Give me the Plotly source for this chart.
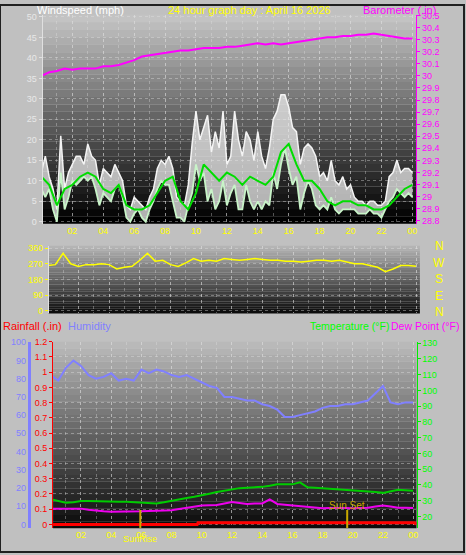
import plotly.graph_objects as go

W, H = 466, 555
# ---------------- data ----------------
hours_q = [i * 0.25 for i in range(97)]
hours_h = [i * 0.5 for i in range(49)]

wind_gust = [12,16,11,8,3,21,8,12,14,16,16,14,19,16,15,9,13,12,11,14,12,10,4,3,6,5,4,3,6,8,13,15,
             14,16,13,6,5,4,9,19,27,20,23,26,17,22,18,27,14,16,27,20,16,22,20,15,22,16,13,18,25,27,31,31,
             28,23,22,14,18,19,18,16,11,12,10,15,10,9,11,8,9,6,5,5,4,5,5,4,4,5,11,12,15,12,13,13,12]
wind_speed = [8,6,8,3,0,12,3,6,10,9,10,11,10,11,8,4,7,6,5,8,9,6,1,0,2,3,1,0,3,5,8,10,
              9,9,5,1,1,0,4,7,14,10,12,5,8,3,5,10,4,7,9,3,3,9,5,3,5,3,5,4,12,8,14,18,
              13,9,11,3,7,10,8,4,3,4,3,6,3,2,3,3,3,3,2,2,2,3,2,2,1,3,5,6,8,7,6,7,6]
wind_avg = [11,9,4,8,9,11,12,11,8,7,9,4,3,3,4,7,10,11,5,3,7,14,12,10,12,11,9,11,10,9,11,17,19,14,
            10,10,8,5,4,5,5,4,4,3,3,4,6,8,9]
barometer = [30.00,30.03,30.04,30.06,30.05,30.06,30.06,30.06,30.08,30.08,30.09,30.11,30.13,30.16,30.17,
             30.18,30.19,30.20,30.21,30.21,30.22,30.23,30.23,30.23,30.24,30.24,30.25,30.26,30.27,30.26,
             30.27,30.26,30.27,30.28,30.29,30.30,30.31,30.32,30.32,30.33,30.33,30.34,30.34,30.35,30.34,
             30.33,30.32,30.31,30.31]
wind_dir = [260,265,330,270,255,265,265,270,265,240,250,255,290,330,285,290,265,255,275,300,285,290,285,
            300,295,290,295,300,295,290,290,285,285,280,285,290,290,285,290,280,270,270,260,250,225,240,
            260,260,255]
humidity = [82,79,86,90,87,82,80,81,83,79,80,79,85,83,85,84,82,81,82,80,78,76,75,70,70,69,68,68,66,65,
            63,59,59,60,61,62,64,65,65,66,66,67,68,72,76,67,66,67,67]
temperature = [31,30,28.8,29,29.8,29.8,29.6,29.5,29.5,29.4,29.3,29,28.8,28.6,28.3,29,30,31,31.7,32.5,33.3,
               34.5,35.6,36.5,37.5,38,38.3,38.5,38.8,39.5,40.4,40.4,40.4,41.7,38.5,38.3,38,37.8,37.5,37,
               36.7,36.5,36.3,35.6,35,36,36.9,36.6,36.3]
dewpoint = [25,25,25,25,25,24.3,23.7,23.3,23,23,22.9,23,23.3,23.5,23.6,23.8,24,24.8,25.6,26.3,27,27.2,
            27.3,28.2,29.2,28.6,28,28.2,28.3,30.8,28,27.5,27,26.4,25.8,25.5,25.2,25.4,25.6,25.4,25.2,
            25.4,25.6,26.3,27,26.3,25.6,25.5,25.4]
rain_t = [0.15, 9.7, 9.75, 24.1, 24.2]
rain = [0.0, 0.0, 0.01, 0.01, 0.0]
sunrise, sunset = 5.93, 19.63
xt_vals = list(range(2, 25, 2))
xt_text = ["02","04","06","08","10","12","14","16","18","20","22","00"]
baro_ticks = [28.8,28.9,29.0,29.1,29.2,29.3,29.4,29.5,29.6,29.7,29.8,29.9,30.0,30.1,30.2,30.3,30.4,30.5]
baro_text = ["28.8","28.9","29","29.1","29.2","29.3","29.4","29.5","29.6","29.7","29.8","29.9",
             "30","30.1","30.2","30.3","30.4","30.5"]
rain_ticks = [0,0.1,0.2,0.3,0.4,0.5,0.6,0.7,0.8,0.9,1.0,1.1,1.2]
rain_text = ["0","0.1","0.2","0.3","0.4","0.5","0.6","0.7","0.8","0.9","1","1.1","1.2"]

FONT = "Liberation Sans"
fig = go.Figure()

def px(x): return x / W
def py(y): return 1 - y / H

dom_top = dict(x=[px(42.7), px(418)], y=[py(222), py(10)])
dom_mid = dict(x=[px(49), px(421.7)], y=[py(313), py(244.3)])
dom_bot = dict(x=[px(53.3), px(418.3)], y=[py(531), py(341.7)])

shapes = []
def gradient(dom, top, bottom, n=28):
    x0, x1 = dom["x"]; y0, y1 = dom["y"]
    for i in range(n):
        f = i / (n - 1)
        c = [int(round(bottom[k] + (top[k] - bottom[k]) * f)) for k in range(3)]
        shapes.append(dict(type="rect", xref="paper", yref="paper", x0=x0, x1=x1,
                           y0=y0 + (y1 - y0) * i / n, y1=y0 + (y1 - y0) * (i + 1) / n,
                           fillcolor=f"rgb({c[0]},{c[1]},{c[2]})", line=dict(width=0), layer="below"))
gradient(dom_top, (195, 195, 195), (0, 0, 0))
gradient(dom_mid, (180, 180, 180), (12, 12, 12))
gradient(dom_bot, (185, 185, 185), (12, 12, 12))

fig.add_trace(go.Scatter(x=hours_q, y=wind_speed, mode="lines", line=dict(width=0), xaxis="x", yaxis="y"))
fig.add_trace(go.Scatter(x=hours_q, y=wind_gust, mode="lines", fill="tonexty", fillcolor="rgba(235,235,235,0.75)",
                         line=dict(color="#f4f4f4", width=1.5), xaxis="x", yaxis="y"))
fig.add_trace(go.Scatter(x=hours_q, y=wind_speed, mode="lines", line=dict(color="#c8f4c8", width=1.8), xaxis="x", yaxis="y"))
fig.add_trace(go.Scatter(x=hours_h, y=wind_avg, mode="lines", line=dict(color="#00dd00", width=2), xaxis="x", yaxis="y"))
fig.add_trace(go.Scatter(x=hours_h, y=barometer, mode="lines", line=dict(color="#ff00ff", width=2), xaxis="x", yaxis="y2"))
fig.add_trace(go.Scatter(x=hours_h, y=wind_dir, mode="lines", line=dict(color="#ffff00", width=1.5), xaxis="x2", yaxis="y3"))
fig.add_trace(go.Scatter(x=hours_h, y=humidity, mode="lines", line=dict(color="#8080ff", width=2), xaxis="x3", yaxis="y5"))
fig.add_trace(go.Scatter(x=hours_h, y=temperature, mode="lines", line=dict(color="#00cc00", width=2), xaxis="x3", yaxis="y6"))
fig.add_trace(go.Scatter(x=hours_h, y=dewpoint, mode="lines", line=dict(color="#ee00ee", width=2), xaxis="x3", yaxis="y6"))
fig.add_trace(go.Scatter(x=rain_t, y=rain, mode="lines", line=dict(color="#ff0000", width=3), xaxis="x3", yaxis="y4"))

for xs in (sunrise, sunset):
    shapes.append(dict(type="line", xref="x3", yref="y4", x0=xs, x1=xs, y0=-0.025, y1=0.095,
                       line=dict(color="#c8a800", width=2)))
shapes.append(dict(type="rect", xref="paper", yref="paper", x0=0, x1=1, y0=0, y1=1,
                   line=dict(color="#202020", width=2)))

tick = dict(family=FONT, size=9)
grid = dict(showgrid=True, gridcolor="rgba(225,225,225,0.4)", griddash="dot", gridwidth=1)
xcommon = dict(range=[0.07, 24.25], tickvals=xt_vals, ticktext=xt_text, zeroline=False,
               minor=dict(dtick=1, tick0=0, showgrid=True, gridcolor="rgba(225,225,225,0.35)", griddash="dot"),
               **grid)

layout = dict(
    width=W, height=H, margin=dict(l=0, r=0, t=0, b=0),
    paper_bgcolor="#c0c0c0", plot_bgcolor="rgba(0,0,0,0)", showlegend=False,
    font=dict(family=FONT, size=9),
    xaxis=dict(domain=dom_top["x"], anchor="y", tickfont=dict(tick, color="#ffff00"), ticks="", **xcommon),
    yaxis=dict(domain=dom_top["y"], range=[-0.5, 50.5], dtick=5, tickfont=dict(tick, color="#e8e8e8"),
               showline=True, linecolor="#e0e0e0", ticks="outside", ticklen=3, tickcolor="#e0e0e0", zeroline=False, **grid),
    yaxis2=dict(overlaying="y", side="right", anchor="x", range=[28.775, 30.505], tickvals=baro_ticks, ticktext=baro_text,
                tickfont=dict(tick, color="#ff00ff"), showline=True, linecolor="#ff00ff",
                ticks="outside", ticklen=3, tickcolor="#ff00ff", showgrid=False, zeroline=False),
    xaxis2=dict(domain=dom_mid["x"], anchor="y3", showticklabels=False, ticks="", **xcommon),
    yaxis3=dict(domain=dom_mid["y"], anchor="x2", range=[-15, 373], tickvals=[0, 90, 180, 270, 360],
                ticktext=["0", "90", "180", "270", "360"], tickfont=dict(tick, color="#ffff00"),
                showline=True, linecolor="#e0e0e0", ticks="outside", ticklen=3, tickcolor="#ffff00", zeroline=False, **grid),
    xaxis3=dict(domain=dom_bot["x"], anchor="y4", tickfont=dict(tick, color="#ffff00"), ticks="",
                **{**xcommon, "range": [0.154, 24.22]}),
    yaxis4=dict(domain=dom_bot["y"], anchor="x3", range=[-0.026, 1.2], tickvals=rain_ticks, ticktext=rain_text,
                tickfont=dict(tick, color="#ff0000"), showline=True, linecolor="#ff0000", ticks="outside",
                ticklen=3, tickcolor="#ff0000", zeroline=False, **grid),
    yaxis5=dict(overlaying="y4", anchor="free", position=px(29), range=[-2.2, 100.3], dtick=10,
                tickfont=dict(tick, color="#8080ff"), showline=True, linecolor="#8080ff", linewidth=3,
                showgrid=False, zeroline=False),
    yaxis6=dict(overlaying="y4", side="right", anchor="x3", range=[12.5, 130.8], tickvals=list(range(20, 131, 10)),
                tickfont=dict(tick, color="#00ff00"), showline=True, linecolor="#00ee00", ticks="outside",
                ticklen=3, tickcolor="#00ee00", showgrid=False, zeroline=False),
    shapes=shapes,
)
fig.update_layout(**layout)

ann = []
def text(x, y, s, color, size=11, xanchor="left"):
    ann.append(dict(xref="paper", yref="paper", x=px(x), y=py(y), text=s, showarrow=False,
                    font=dict(family=FONT, size=size, color=color), xanchor=xanchor, yanchor="middle"))
text(35, 5, "Windspeed (mph)", "#ffffff")
text(251, 5, "24 hour graph day : April 16 2026", "#ffff00", xanchor="center")
text(440, 5, "Barometer (.in)", "#ff00ff", xanchor="right")
for s, y in zip(["N", "W", "S", "E", "N"], [245, 262, 278, 295, 311]):
    text(441, y, s, "#ffff00", size=12, xanchor="center")
text(1, 326, "Rainfall (.in)", "#ff0000")
text(66, 326, "Humidity", "#8080ff")
text(393, 326, "Temperature (°F)", "#00ff00", size=10.5, xanchor="right")
text(463, 326, "Dew Point (°F)", "#ff00ff", size=10.5, xanchor="right")
text(348, 508, "Sun Set", "#c8a800", size=10, xanchor="center")
text(141, 542, "SunRise", "#ffff00", size=9, xanchor="center")
fig.update_layout(annotations=ann)

fig.write_html("out.html", config={"displayModeBar": False})
with open("out.html", encoding="utf-8") as f:
    html = f.read()
html = html.replace("<head>", "<head><style>html,body{margin:0;padding:0;overflow:hidden}</style>", 1)
with open("out.html", "w", encoding="utf-8") as f:
    f.write(html)
